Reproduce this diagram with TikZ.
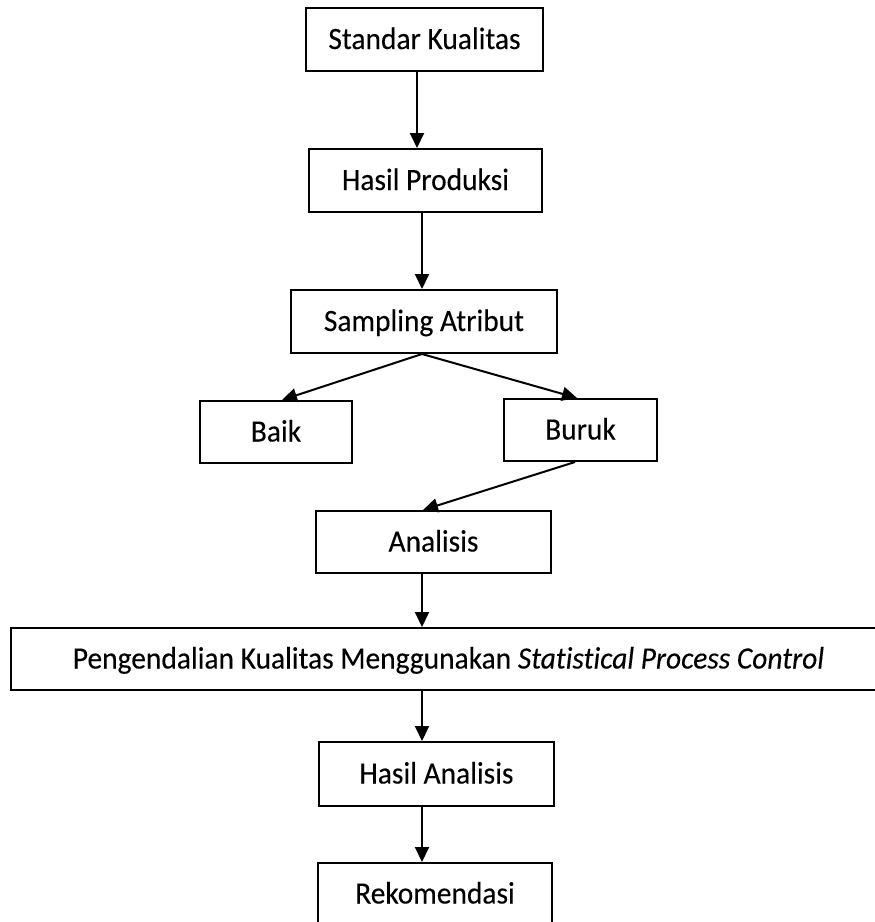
\documentclass[tikz,border=0pt]{standalone}
\usepackage{fontspec}
\setmainfont[FakeStretch=0.95, FakeBold=0.2, Ligatures={NoCommon}]{Carlito}
\usetikzlibrary{arrows.meta,calc}
\tikzset{
  box/.style={draw, line width=2pt, rectangle, inner sep=0pt, font=\fontsize{31}{36}\selectfont, text height=22pt, text depth=3pt},
  arr/.style={line width=2pt, -{Triangle[length=15pt,width=14pt]}}
}
\begin{document}
\begin{tikzpicture}[x=1pt,y=-1pt]
\useasboundingbox (0,0) rectangle (875,922);
\node[box, minimum width=237pt, minimum height=63pt] (std) at (424.5,39.5) {Standar Kualitas};
\node[box, minimum width=233pt, minimum height=63pt] (hp) at (425.5,180.5) {Hasil Produksi};
\node[box, minimum width=266pt, minimum height=63pt] (sa) at (424,321.5) {Sampling Atribut};
\node[box, minimum width=152pt, minimum height=62pt] (baik) at (276,432) {Baik};
\node[box, minimum width=153pt, minimum height=62pt] (buruk) at (580.5,430) {Buruk};
\node[box, minimum width=235pt, minimum height=62pt] (an) at (433.5,542) {Analisis};
\node[box, minimum width=875pt, minimum height=62pt] (spc) at (448.5,659) {Pengendalian Kualitas Menggunakan \textit{Statistical Process Control}};
\node[box, minimum width=235pt, minimum height=64pt] (ha) at (436.5,774) {Hasil Analisis};
\node[box, minimum width=234pt, minimum height=62pt] (rek) at (435,894) {Rekomendasi};

\draw[arr] ([xshift=-7.5pt]std.south) -- ([xshift=-8.5pt]hp.north);
\draw[arr] ([xshift=-3.5pt]hp.south) -- ([xshift=-2pt]sa.north);
\draw[arr] ([xshift=-2pt]sa.south) -- ([xshift=6pt]baik.north);
\draw[arr] ([xshift=-2pt]sa.south) -- ([xshift=-3.5pt]buruk.north);
\draw[arr] ([xshift=-5.5pt]buruk.south) -- ([xshift=-10.5pt]an.north);
\draw[arr] ([xshift=-11.5pt]an.south) -- ([xshift=-26.5pt]spc.north);
\draw[arr] ([xshift=-26.5pt]spc.south) -- ([xshift=-14.5pt]ha.north);
\draw[arr] ([xshift=-14.5pt]ha.south) -- ([xshift=-13pt]rek.north);
\end{tikzpicture}
\end{document}
